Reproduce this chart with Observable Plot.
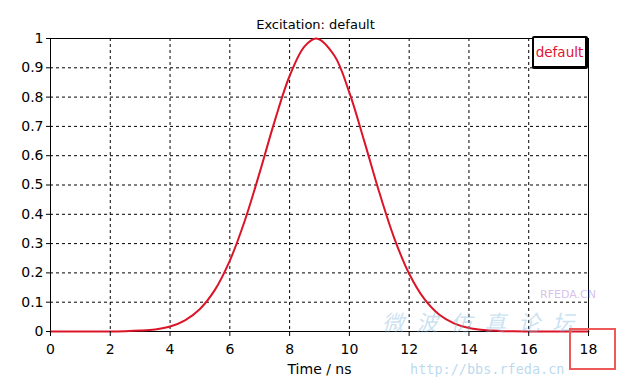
<!DOCTYPE html>
<html>
<head>
<meta charset="utf-8">
<script src="https://cdn.jsdelivr.net/npm/d3@7"></script>
<script src="https://cdn.jsdelivr.net/npm/@observablehq/plot@0.6"></script>
<style>
  html, body { margin: 0; padding: 0; background: #fff; }
  #wrap { position: relative; width: 623px; height: 384px; overflow: hidden; font-family: "DejaVu Sans", sans-serif; }
  #legend { position: absolute; left: 532px; top: 36px; width: 51px; height: 28px;
            border-style: solid; border-color: #000; border-width: 2px 3px 3px 2px; border-radius: 2px;
            background: #fff; color: #e0142d; font-size: 13.5px; line-height: 28px; text-align: center; }
  #mark18 { position: absolute; left: 569px; top: 328px; width: 43px; height: 38px; border: 2.5px solid #ee5a5a; }
  .wm { position: absolute; white-space: nowrap; pointer-events: none; }
</style>
</head>
<body>
<div id="wrap"></div>
<script>
const times = [0, 0.5, 1, 1.5, 2, 2.5, 3, 3.5, 4, 4.5, 5, 5.5, 6, 6.5, 7, 7.5, 8, 8.5, 8.9, 9.5, 10, 10.5, 11, 11.5, 12, 12.5, 13, 13.5, 14, 14.5, 15, 15.5, 16, 16.5, 17, 17.5, 18];
const amplitude = [0, 0, 0, 0, 0.0003, 0.001, 0.003, 0.007, 0.017, 0.038, 0.077, 0.142, 0.242, 0.378, 0.543, 0.718, 0.872, 0.973, 1.0, 0.941, 0.815, 0.649, 0.475, 0.319, 0.197, 0.112, 0.058, 0.028, 0.012, 0.005, 0.002, 0.0006, 0.0002, 0, 0, 0, 0];
const xTicks = [0, 2, 4, 6, 8, 10, 12, 14, 16, 18];
const yTicks = [0, 0.1, 0.2, 0.3, 0.4, 0.5, 0.6, 0.7, 0.8, 0.9, 1];
const titleText = "Excitation: default";
const xLabel = "Time / ns";
const seriesName = "default";
const watermarkCn = "微波仿真论坛";
const watermarkUrl = "http://bbs.rfeda.cn";
const watermarkSite = "RFEDA.CN";

const data = times.map((t, i) => ({t, v: amplitude[i]}));
const red = "#dc1428";

const chart = Plot.plot({
  width: 623,
  height: 384,
  marginLeft: 50,
  marginRight: 35,
  marginTop: 38,
  marginBottom: 53,
  style: {fontFamily: "DejaVu Sans, sans-serif", fontSize: "14px", color: "#000", background: "transparent", overflow: "visible"},
  x: {domain: [0, 18]},
  y: {domain: [0, 1]},
  marks: [
    Plot.gridX(xTicks, {stroke: "#000", strokeOpacity: 1, strokeDasharray: "3,3"}),
    Plot.gridY(yTicks, {stroke: "#000", strokeOpacity: 1, strokeDasharray: "3,3"}),
    Plot.frame({stroke: "#000", strokeWidth: 1}),
    Plot.line(data, {x: "t", y: "v", stroke: red, strokeWidth: 2, curve: "catmull-rom"}),
    Plot.axisX(xTicks, {tickSize: 5, tickPadding: 8, label: xLabel, labelAnchor: "center", labelArrow: "none", labelOffset: 42, fontSize: 14}),
    Plot.axisY(yTicks, {tickSize: 4, tickPadding: 3, label: null, fontSize: 14, tickFormat: d => String(d)}),
    Plot.text([titleText], {frameAnchor: "top", dy: -19, dx: -4, fontSize: 13, fill: "#000"})
  ]
});

const wrap = document.getElementById("wrap");
wrap.appendChild(chart);

const legend = document.createElement("div");
legend.id = "legend";
legend.textContent = seriesName;
wrap.appendChild(legend);

// faint watermark of the source image (kept clear of the tick labels)
const wm1 = document.createElement("div");
wm1.className = "wm";
wm1.style.cssText = "left:382px;top:310px;font-family:'Noto Sans CJK SC';font-size:22px;line-height:22px;letter-spacing:12px;color:rgba(120,180,220,0.4);font-style:italic;";
wm1.textContent = watermarkCn;
wrap.appendChild(wm1);
const wm2 = document.createElement("div");
wm2.className = "wm";
wm2.style.cssText = "left:410px;top:362px;font-family:'DejaVu Sans Mono';font-size:13.5px;line-height:14px;color:rgba(120,180,220,0.5);";
wm2.textContent = watermarkUrl;
wrap.appendChild(wm2);
const wm3 = document.createElement("div");
wm3.className = "wm";
wm3.style.cssText = "left:540px;top:289px;font-family:'DejaVu Sans';font-size:11px;line-height:12px;color:rgba(190,150,220,0.6);";
wm3.textContent = watermarkSite;
wrap.appendChild(wm3);

const box = document.createElement("div");
box.id = "mark18";
wrap.appendChild(box);
</script>
</body>
</html>
